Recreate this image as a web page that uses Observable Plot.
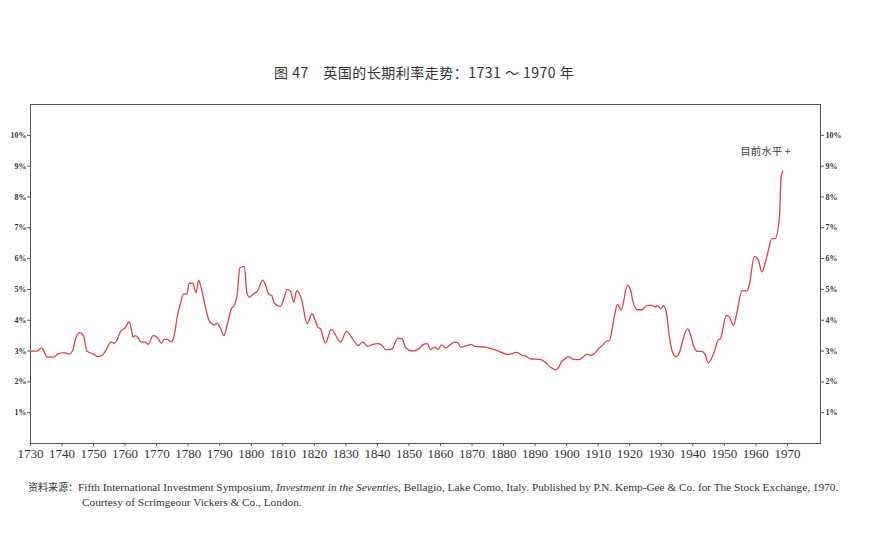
<!DOCTYPE html>
<html>
<head>
<meta charset="utf-8">
<script src="https://cdn.jsdelivr.net/npm/d3@7"></script>
<script src="https://cdn.jsdelivr.net/npm/@observablehq/plot@0.6"></script>
<style>
  html, body { margin: 0; padding: 0; background: #fff; }
  #wrap { width: 896px; height: 544px; position: relative; overflow: hidden; }
  .title { height: 90px; box-sizing: border-box; padding-top: 62px; padding-left: 274px;
           font-family: "Noto Sans CJK SC", sans-serif; font-size: 14px; letter-spacing: 0.5px; line-height: 20px; color: #333; white-space: pre; }
  .caption { box-sizing: border-box; padding-top: 16px; padding-left: 82px; text-indent: -54px;
             font-family: "Liberation Serif", serif; font-size: 11.3px; line-height: 15px; color: #333; width: 896px; white-space: nowrap; }
  .caption .cjk { font-family: "Noto Sans CJK SC", sans-serif; font-size: 10px; }
  svg { display: block; }
</style>
</head>
<body>
<div id="wrap">
  <div class="title">图 47　英国的长期利率走势：1731 ～ 1970 年</div>
  <div id="chart"></div>
  <div class="caption"><span class="cjk">资料来源：</span>Fifth International Investment Symposium, <i>Investment in the Seventies,</i> Bellagio, Lake Como, Italy. Published by P.N. Kemp-Gee &amp; Co. for The Stock Exchange, 1970.<br>Courtesy of Scrimgeour Vickers &amp; Co., London.</div>
</div>
<script>
const years = [1730,1732,1733.5,1734,1735.3,1737.4,1738.5,1740.6,1742.2,1743.3,1744.3,1745.6,1746.8,1747.9,1750,1751.5,1752.8,1753.9,1755.5,1756.5,1757.6,1758.6,1760,1761.3,1762,1762.5,1763.2,1764,1765,1766.3,1767.3,1768.9,1769.7,1770.5,1771.5,1772.4,1773.4,1774.5,1775.5,1776.6,1777.7,1778.5,1779.6,1780.3,1781.4,1782.5,1783.3,1784,1785.4,1786.7,1788.3,1789.2,1790.4,1791.3,1792.6,1793.6,1794.7,1795.5,1796.4,1797.8,1798.6,1799.4,1800.7,1802,1803.6,1804.7,1805.5,1806.5,1807.3,1809.2,1810.5,1811.3,1812.4,1813.5,1814.4,1815.9,1817.7,1819.3,1821.2,1821.9,1823.5,1825.4,1828.3,1830.2,1832.5,1833.9,1835.3,1837,1838.3,1840.4,1841.5,1842.7,1844.6,1846.5,1847.8,1848.9,1851,1853.1,1854.5,1855.8,1856.8,1858.3,1859.2,1860.3,1861.6,1864.5,1865.5,1866.3,1869.8,1871,1874.2,1877.4,1881.6,1884.3,1885.9,1886.9,1888.5,1891.6,1893.2,1895.1,1896.6,1897.4,1898.5,1899.3,1900.6,1902.2,1904,1905.4,1906.5,1907.5,1908.6,1910.1,1911.5,1912.8,1913.5,1914.9,1916.1,1917.3,1919.3,1920.2,1921.2,1922.5,1923.8,1925.4,1927,1928,1928.8,1929.9,1930.7,1931.6,1932.6,1933.4,1934.7,1935.8,1937.1,1938.3,1939.2,1940.2,1941.5,1942.8,1943.9,1944.9,1945.6,1947.1,1947.8,1948.9,1950.6,1951.6,1952.9,1953.9,1955.6,1957.2,1958,1959.5,1960.8,1961.9,1963.5,1965.1,1966.1,1967.5,1968,1968.6];
const rates = [3.0,3.0,3.1,3.05,2.8,2.8,2.9,2.95,2.9,3.0,3.4,3.6,3.5,3.0,2.9,2.82,2.87,3.02,3.3,3.25,3.4,3.65,3.75,3.95,3.7,3.45,3.5,3.45,3.3,3.3,3.22,3.5,3.48,3.4,3.25,3.38,3.38,3.3,3.48,4.15,4.6,4.85,4.85,5.2,5.2,4.9,5.3,5.1,4.45,3.97,3.85,3.9,3.7,3.5,3.95,4.35,4.5,4.8,5.7,5.75,4.9,4.75,4.85,4.95,5.3,5.1,4.85,4.8,4.55,4.45,4.75,5.0,4.95,4.58,4.96,4.7,3.89,4.21,3.76,3.73,3.26,3.70,3.29,3.64,3.34,3.18,3.29,3.15,3.21,3.24,3.18,3.04,3.07,3.42,3.40,3.13,3.0,3.07,3.21,3.24,3.05,3.13,3.05,3.2,3.1,3.29,3.27,3.13,3.21,3.15,3.13,3.04,2.89,2.96,2.86,2.84,2.75,2.73,2.64,2.46,2.39,2.46,2.67,2.73,2.82,2.73,2.72,2.82,2.9,2.86,2.9,3.07,3.2,3.33,3.33,3.99,4.51,4.34,5.13,5.0,4.54,4.34,4.34,4.47,4.49,4.43,4.47,4.37,4.47,4.26,3.45,3.02,2.82,2.96,3.45,3.72,3.56,3.18,2.99,2.99,2.89,2.62,2.7,3.07,3.32,3.43,4.16,4.1,3.83,4.2,4.95,4.95,5.18,6.07,5.95,5.56,6.07,6.65,6.65,7.35,8.65,8.84];
const xTicks = d3.range(1730, 1971, 10);
const yTicks = [1,2,3,4,5,6,7,8,9,10];
const noteText = ["目前水平 +"];
const noteYear = [1971];
const noteRate = [9.46];

const data = years.map((y, i) => ({year: y, rate: rates[i]}));
const notes = noteText.map((t, i) => ({text: t, year: noteYear[i], rate: noteRate[i]}));

const pct = d => d + "%";
const chart = Plot.plot({
  width: 896,
  height: 373,
  marginTop: 14,
  marginBottom: 20,
  marginLeft: 30,
  marginRight: 76,
  style: {fontFamily: "Liberation Serif, serif", color: "#333", background: "transparent"},
  x: {domain: [1730, 1980.5]},
  y: {domain: [0, 11]},
  marks: [
    Plot.frame({stroke: "#555", strokeWidth: 1}),
    Plot.axisX({ticks: xTicks, tickFormat: d => String(d), tickSize: 3, tickPadding: 2, fontSize: 13, label: null, stroke: "#555"}),
    Plot.axisY({anchor: "left", ticks: yTicks, tickFormat: pct, tickSize: 3, tickPadding: 1, fontSize: 8, fontWeight: "bold", label: null, stroke: "#555"}),
    Plot.axisY({anchor: "right", ticks: yTicks, tickFormat: pct, tickSize: 3, tickPadding: 2, fontSize: 8, fontWeight: "bold", label: null, stroke: "#555"}),
    Plot.line(data, {x: "year", y: "rate", stroke: "#d9434a", strokeWidth: 1.3, curve: "monotone-x"}),
    Plot.text(notes, {x: "year", y: "rate", text: "text", textAnchor: "end", fontSize: 10.5, fill: "#444", fontFamily: "Noto Sans CJK SC, sans-serif"})
  ]
});
document.getElementById("chart").appendChild(chart);
</script>
</body>
</html>
